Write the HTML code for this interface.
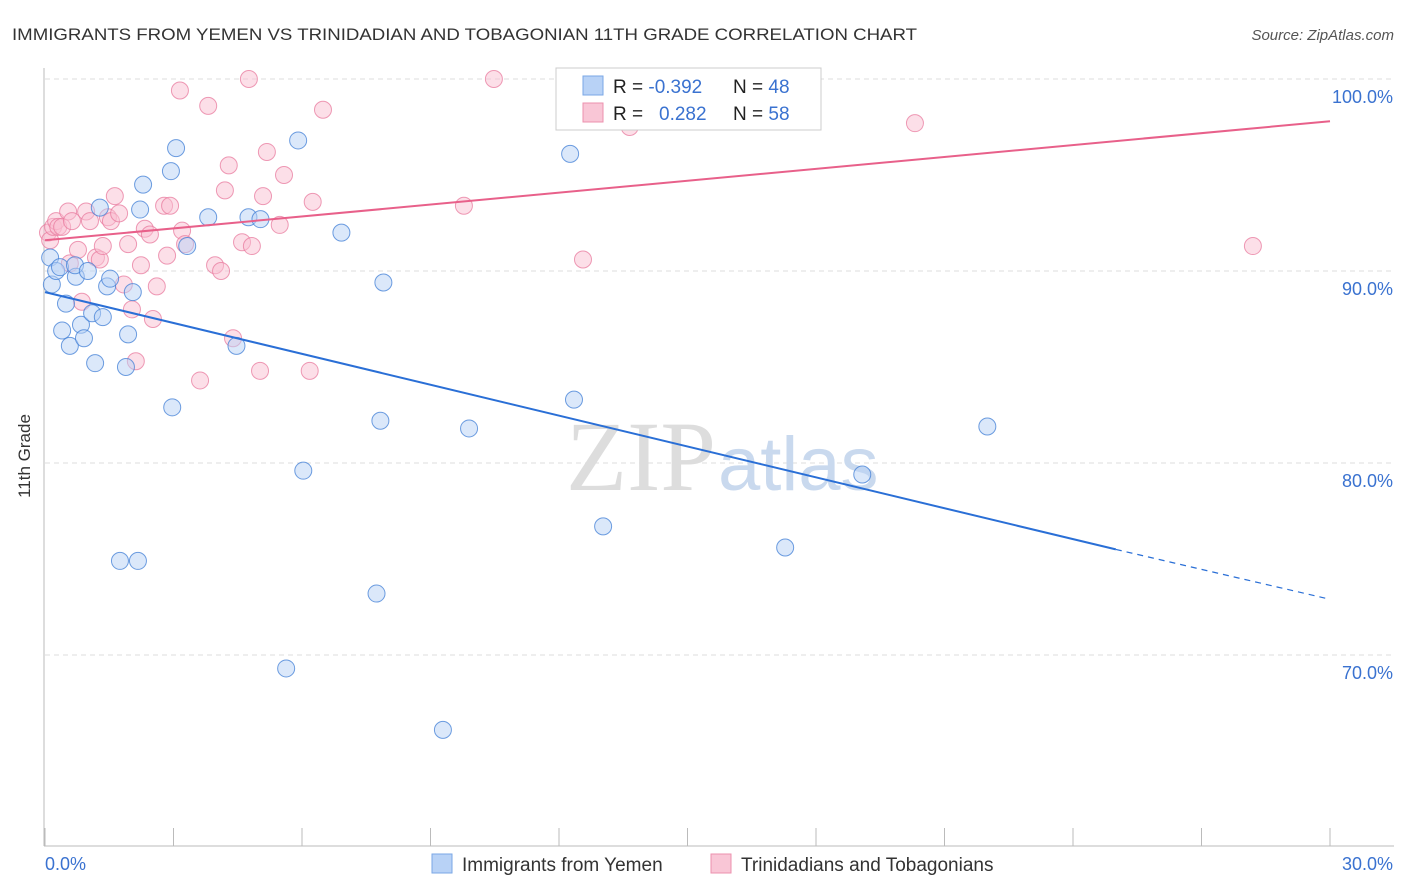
<!DOCTYPE html>
<html><head><meta charset="utf-8"><style>
body{margin:0;background:#fff;font-family:"Liberation Sans",sans-serif;}
</style></head><body>
<svg width="1406" height="892" style="display:block">
<text x="12" y="40" font-size="17" fill="#333" textLength="905" lengthAdjust="spacingAndGlyphs">IMMIGRANTS FROM YEMEN VS TRINIDADIAN AND TOBAGONIAN 11TH GRADE CORRELATION CHART</text>
<text x="1394" y="40" font-size="15" fill="#555" font-style="italic" text-anchor="end">Source: ZipAtlas.com</text>
<g id="grid"></g>
<text x="716" y="490" font-size="100" fill="#ddd" text-anchor="end" font-family="Liberation Serif">ZIP</text>
<text x="718" y="490" font-size="76" fill="#c9d9ee">atlas</text>
<line x1="44" y1="68" x2="44" y2="846" stroke="#bbb"/>
<line x1="44" y1="846" x2="1394" y2="846" stroke="#bbb"/>
<g id="xticks"></g>
<text x="30" y="456" font-size="17" fill="#333" transform="rotate(-90 30 456)" text-anchor="middle">11th Grade</text>
<text x="45" y="870" font-size="18" fill="#3a72d0">0.0%</text>
<text x="1393" y="870" font-size="18" fill="#3a72d0" text-anchor="end">30.0%</text>
<g id="pts"></g>
<g id="trend"></g>
<g>
<rect x="556" y="68" width="265" height="62" fill="#fff" stroke="#ccc"/>
<rect x="583" y="76" width="20" height="19" fill="#b8d2f6" stroke="#7aa7e6"/>
<rect x="583" y="103" width="20" height="19" fill="#f9c6d6" stroke="#ec90ae"/>
<text x="613" y="93" font-size="19" fill="#222">R = <tspan fill="#3a72d0">-0.392</tspan><tspan x="733">N = </tspan><tspan fill="#3a72d0">48</tspan></text>
<text x="613" y="120" font-size="19" fill="#222">R = <tspan x="659" fill="#3a72d0">0.282</tspan><tspan x="733">N = </tspan><tspan fill="#3a72d0">58</tspan></text>
</g>
<g>
<rect x="432" y="854" width="20" height="19" fill="#b8d2f6" stroke="#7aa7e6"/>
<text x="462" y="871" font-size="19" fill="#333">Immigrants from Yemen</text>
<rect x="711" y="854" width="20" height="19" fill="#f9c6d6" stroke="#ec90ae"/>
<text x="741" y="871" font-size="19" fill="#333">Trinidadians and Tobagonians</text>
</g>
</svg>
<script>
const yTicks=[100,90,80,70];
const xTickVals=[0,3,6,9,12,15,18,21,24,27,30];
const blueX=[0.12,0.16,0.26,0.35,0.49,0.4,0.58,0.72,0.7,0.84,0.91,1.0,1.1,1.17,1.28,1.35,1.45,1.52,1.75,1.89,1.94,2.05,2.17,2.22,2.29,2.97,2.94,3.06,3.32,3.81,4.47,4.75,5.03,5.63,5.91,6.03,6.92,7.74,7.83,7.9,9.29,9.9,12.26,12.35,13.03,17.28,19.08,22.0];
const blueY=[90.7,89.3,90.0,90.2,88.3,86.9,86.1,89.7,90.3,87.2,86.5,90.0,87.8,85.2,93.3,87.6,89.2,89.6,74.9,85.0,86.7,88.9,74.9,93.2,94.5,82.9,95.2,96.4,91.3,92.8,86.1,92.8,92.7,69.3,96.8,79.6,92.0,73.2,82.2,89.4,66.1,81.8,96.1,83.3,76.7,75.6,79.4,81.9];
const pinkX=[0.07,0.12,0.19,0.26,0.31,0.4,0.54,0.63,0.58,0.77,0.86,0.96,1.05,1.19,1.28,1.35,1.47,1.54,1.63,1.73,1.84,1.94,2.03,2.12,2.24,2.33,2.45,2.52,2.61,2.78,2.85,2.92,3.15,3.2,3.27,3.62,3.81,3.97,4.11,4.2,4.29,4.39,4.6,4.76,4.83,5.02,5.09,5.18,5.48,5.58,6.18,6.25,6.49,9.78,10.48,12.56,13.65,20.31,28.2];
const pinkY=[92.0,91.6,92.3,92.6,92.3,92.3,93.1,92.6,90.4,91.1,88.4,93.1,92.6,90.7,90.6,91.3,92.8,92.6,93.9,93.0,89.3,91.4,88.0,85.3,90.3,92.2,91.9,87.5,89.2,93.4,90.8,93.4,99.4,92.1,91.4,84.3,98.6,90.3,90.0,94.2,95.5,86.5,91.5,100.0,91.3,84.8,93.9,96.2,92.4,95.0,84.8,93.6,98.4,93.4,100.0,90.6,97.5,97.7,91.3];
const blueTrend=[88.9,75.5,72.9];
const pinkTrend=[91.6,97.8];
const ns="http://www.w3.org/2000/svg";
const X=v=>45+v/30*1285;
const Y=v=>79+(100-v)*19.2;
function mk(t,a,p){const e=document.createElementNS(ns,t);for(const k in a)e.setAttribute(k,a[k]);document.getElementById(p).appendChild(e);return e;}
yTicks.forEach(t=>{
 const l=mk('line',{x1:45,x2:1394,y1:Y(t),y2:Y(t),stroke:'#ddd','stroke-dasharray':'5,4'},'grid');
 
 
 const tx=mk('text',{x:1393,y:Y(t)+24,'font-size':18,fill:'#3a72d0','text-anchor':'end'},'grid');
 tx.textContent=t.toFixed(1)+'%';
 
 
});
xTickVals.forEach(t=>{
 const l=mk('line',{x1:X(t),x2:X(t),y1:828,y2:846,stroke:'#bbb'},'xticks');
 
 
});
function pts(xs,ys,fill,stroke,name){
 xs.forEach((x,i)=>{
  const c=mk('circle',{cx:X(x),cy:Y(ys[i]),r:8.5,fill:fill,'fill-opacity':0.5,stroke:stroke,'stroke-opacity':0.75,'stroke-width':1},'pts');
  
  
 });
}
pts(pinkX,pinkY,'#f9c0d2','#e8799e','pink-point');
pts(blueX,blueY,'#b8d2f6','#3f7ed6','blue-point');
let l=mk('line',{x1:X(0),y1:Y(blueTrend[0]),x2:X(25),y2:Y(blueTrend[1]),stroke:'#2a6fd6','stroke-width':2},'trend');


l=mk('line',{x1:X(25),y1:Y(blueTrend[1]),x2:X(30),y2:Y(blueTrend[2]),stroke:'#2a6fd6','stroke-width':1.2,'stroke-dasharray':'6,5'},'trend');


l=mk('line',{x1:X(0),y1:Y(pinkTrend[0]),x2:X(30),y2:Y(pinkTrend[1]),stroke:'#e8608a','stroke-width':2},'trend');


</script>
</body></html>
